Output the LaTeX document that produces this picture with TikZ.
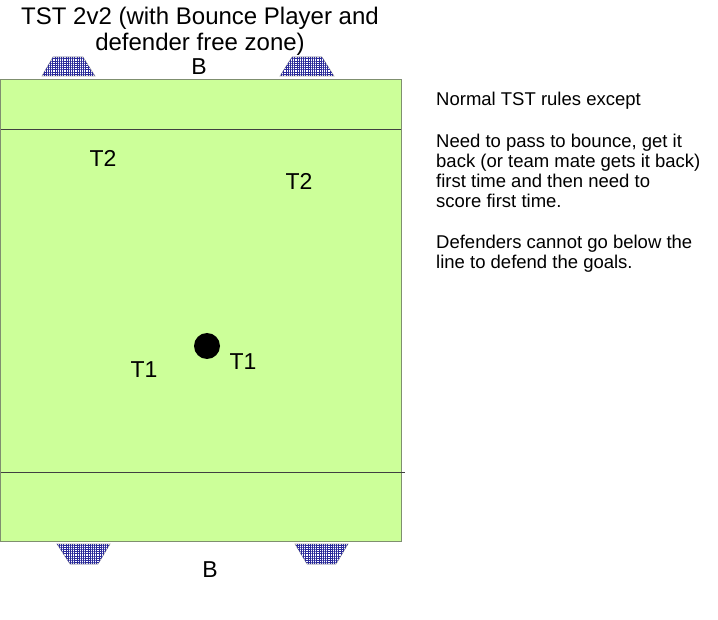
\documentclass[tikz,border=0pt]{standalone}
\usepackage{fontspec}
\setmainfont{Liberation Sans}
\usetikzlibrary{patterns.meta}
\definecolor{pitch}{HTML}{CCFF99}
\definecolor{edge}{HTML}{7F8F6F}
\definecolor{netc}{HTML}{2A2A9A}
\begin{document}
\begin{tikzpicture}[x=1pt,y=-1pt,
  goal/.style={draw=gray!70,line width=0.6pt,fill=white,postaction={pattern={Hatch[angle=0,distance=2.2pt,line width=1pt]},pattern color=netc}},
  lab/.style={font=\fontsize{23}{27}\selectfont,inner sep=0pt},
  note/.style={font=\fontsize{18.5}{20}\selectfont,align=left,anchor=north west,inner sep=0pt}]
\useasboundingbox (0,0) rectangle (718,620);
% pitch
\draw[edge,fill=pitch,line width=0.8pt] (0.5,79) rectangle (401,541);
\coordinate (tl) at (0.5,129); \coordinate (tr) at (401,129);
\coordinate (bl) at (0.5,472); \coordinate (br) at (405,472);
\draw[black!75,line width=0.9pt] (tl) -- (tr);
\draw[black!75,line width=0.9pt] (bl) -- (br);
% goals
\draw[goal] (42,76) -- (53,57) -- (83,57) -- (95,76) -- cycle;
\draw[goal] (280,76) -- (292,57) -- (322,57) -- (334,76) -- cycle;
\draw[goal] (57,544) -- (110,544) -- (98,564) -- (70,564) -- cycle;
\draw[goal] (295,544) -- (348,544) -- (336,564) -- (307,564) -- cycle;
% title
\node[lab,align=center,font=\fontsize{24}{26}\selectfont] (title) at (200,31) {TST 2v2 (with Bounce Player and\\defender free zone)};
\node[lab] (btop) at (199,67) {B};
\node[lab] (bbot) at (210,570) {B};
\node[lab] (t2a) at (103,158) {T2};
\node[lab] (t2b) at (299,181) {T2};
\node[lab] (t1a) at (144,370) {T1};
\node[lab] (t1b) at (243,362) {T1};
\fill[black] (207,346) circle (13);
\node[note] (n1) at (436,92) {Normal TST rules except};
\node[note] (n2) at (436,134) {Need to pass to bounce, get it\\back (or team mate gets it back)\\first time and then need to\\score first time.};
\node[note] (n3) at (436,235) {Defenders cannot go below the\\line to defend the goals.};
\end{tikzpicture}
\end{document}
